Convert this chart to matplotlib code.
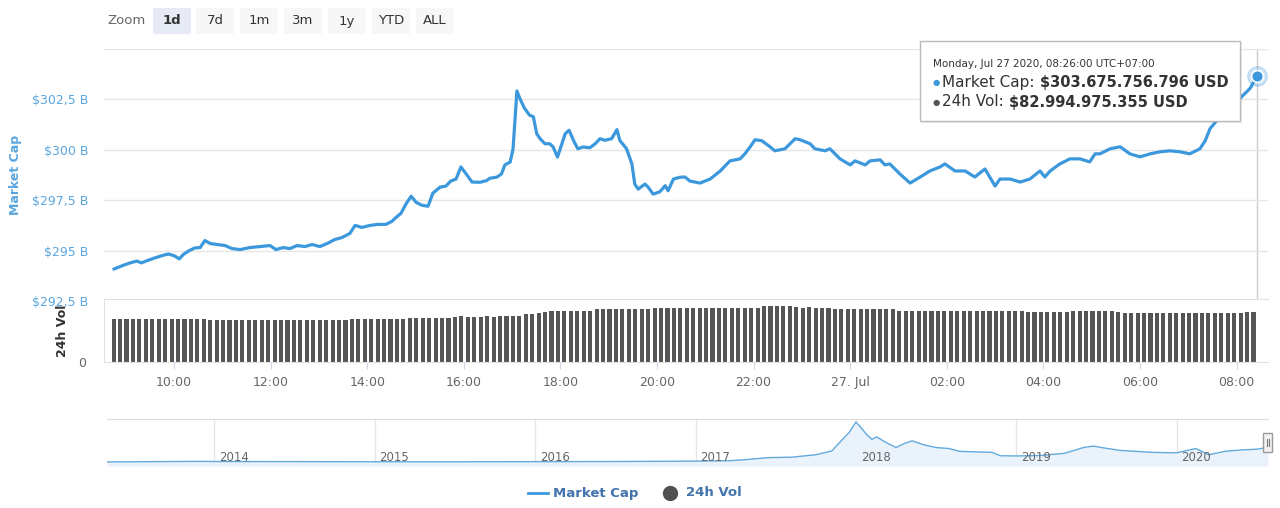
import numpy as np
import matplotlib.pyplot as plt
from matplotlib.patches import Rectangle
from matplotlib.lines import Line2D

# Market cap over the last day (hours counted from Jul 26 00:00), billions USD
mc_hours = [8.76, 8.95, 9.09, 9.23, 9.33, 9.44, 9.57, 9.75, 9.88, 10.00, 10.11, 10.19,
            10.30, 10.43, 10.54, 10.64, 10.75, 10.91, 11.06, 11.20, 11.37, 11.57, 11.78,
            11.99, 12.11, 12.26, 12.40, 12.55, 12.71, 12.86, 13.02, 13.17, 13.33, 13.48,
            13.64, 13.75, 13.89, 14.06, 14.22, 14.39, 14.51, 14.60, 14.70, 14.80, 14.91,
            15.01, 15.13, 15.26, 15.36, 15.51, 15.63, 15.73, 15.84, 15.94, 16.05, 16.17,
            16.34, 16.47, 16.54, 16.68, 16.78, 16.85, 16.96, 17.02, 17.10, 17.16, 17.25,
            17.36, 17.44, 17.51, 17.58, 17.68, 17.78, 17.85, 17.94, 18.03, 18.10, 18.18,
            18.27, 18.36, 18.47, 18.61, 18.72, 18.82, 18.92, 19.06, 19.17, 19.23, 19.37,
            19.48, 19.54, 19.61, 19.75, 19.82, 19.92, 20.06, 20.17, 20.23, 20.34, 20.48,
            20.58, 20.68, 20.89, 21.10, 21.31, 21.51, 21.72, 21.82, 21.93, 22.03, 22.17,
            22.34, 22.44, 22.65, 22.86, 22.96, 23.17, 23.27, 23.48, 23.58, 23.79, 24.00,
            24.10, 24.31, 24.41, 24.62, 24.72, 24.82, 25.03, 25.24, 25.45, 25.65, 25.86,
            25.96, 26.17, 26.38, 26.58, 26.79, 27.00, 27.10, 27.31, 27.52, 27.72, 27.93,
            28.03, 28.14, 28.34, 28.55, 28.76, 28.96, 29.07, 29.17, 29.38, 29.59, 29.79,
            30.00, 30.21, 30.41, 30.62, 30.83, 31.03, 31.24, 31.35, 31.45, 31.66, 31.86,
            32.07, 32.28, 32.43]
mc_values = [294.09, 294.27, 294.39, 294.48, 294.39, 294.50, 294.61, 294.75, 294.83, 294.75,
             294.59, 294.80, 294.98, 295.13, 295.15, 295.50, 295.35, 295.30, 295.25, 295.10,
             295.05, 295.15, 295.20, 295.25, 295.05, 295.15, 295.10, 295.25, 295.20, 295.30,
             295.20, 295.35, 295.55, 295.65, 295.85, 296.25, 296.15, 296.25, 296.30, 296.30,
             296.45, 296.65, 296.85, 297.30, 297.70, 297.40, 297.25, 297.20, 297.85, 298.15,
             298.20, 298.45, 298.55, 299.15, 298.80, 298.40, 298.39, 298.47, 298.59, 298.64,
             298.80, 299.25, 299.39, 300.05, 302.92, 302.55, 302.09, 301.72, 301.64, 300.80,
             300.55, 300.30, 300.30, 300.14, 299.64, 300.30, 300.80, 300.97, 300.47, 300.05,
             300.14, 300.10, 300.30, 300.55, 300.47, 300.55, 301.00, 300.47, 300.05, 299.30,
             298.30, 298.05, 298.30, 298.14, 297.80, 297.92, 298.22, 297.97, 298.55, 298.64,
             298.65, 298.45, 298.35, 298.55, 298.95, 299.45, 299.55, 299.80, 300.15, 300.50,
             300.45, 300.15, 299.95, 300.05, 300.55, 300.50, 300.30, 300.05, 299.95, 300.05,
             299.55, 299.25, 299.45, 299.25, 299.45, 299.50, 299.25, 299.30, 298.80, 298.35,
             298.65, 298.95, 299.15, 299.30, 298.95, 298.95, 298.65, 299.05, 298.20, 298.55,
             298.55, 298.40, 298.55, 298.95, 298.65, 298.95, 299.30, 299.55, 299.55, 299.40,
             299.80, 299.80, 300.05, 300.15, 299.80, 299.65, 299.80, 299.90, 299.95, 299.90,
             299.80, 300.05, 300.45, 301.05, 301.65, 302.05, 302.55, 303.05, 303.68]

# 24h volume, one bar every 8 minutes from 08:45, billions USD
vol_start = 8.75
vol_step = 8 / 60
vol_values = [71.2, 71.0, 71.1, 71.3, 71.2, 71.0, 71.1, 71.2, 71.3, 71.1, 71.0, 71.2, 71.1, 71.3, 71.0,
              69.3, 69.2, 69.1, 69.2, 69.0, 69.1, 69.2, 69.3, 69.1, 69.0, 69.1, 69.2, 69.1, 69.0,
              69.2, 69.3, 69.1, 69.2, 69.0, 69.1, 69.3, 69.2,
              71.0, 71.2, 71.1, 71.3, 71.0, 71.2, 71.1, 71.0, 71.2,
              72.6, 72.4, 72.5, 72.7, 72.5, 72.4, 72.6,
              75.0, 75.2, 74.9, 75.1, 75.0, 75.3, 75.1,
              76.5, 76.7, 76.4, 76.6,
              78.6, 79.1, 80.5, 81.8,
              84.0, 84.2, 83.9, 84.1, 84.0, 84.3, 84.1,
              87.0, 87.1, 86.9, 87.2, 87.0, 86.8, 87.1, 87.0, 86.9,
              88.5, 88.6, 88.4, 88.7, 88.5, 88.6, 88.4, 88.5, 88.7, 88.6, 88.5, 88.4, 88.6, 88.8,
              88.5, 88.6, 88.9,
              92.0, 92.2, 91.9, 92.1, 91.8, 91.5,
              89.6, 90.2, 89.4, 89.7, 89.5,
              87.5, 87.4, 87.6, 87.5, 87.3, 87.6, 87.4, 87.5, 87.2, 87.3,
              84.7, 84.8, 84.6, 84.7, 84.9, 84.6, 84.7, 84.8, 84.5, 84.7, 84.6, 84.8, 84.7, 84.6,
              84.9, 84.7, 84.5, 84.6, 84.8, 84.6,
              83.0, 82.9, 83.1, 83.0, 82.8, 83.0, 83.2, 83.5, 83.9, 83.4, 83.8, 84.1, 83.6, 83.9, 83.1,
              81.3, 81.2, 81.4, 81.3, 81.1, 81.3, 81.2, 81.4, 81.3, 81.2, 81.1, 81.3, 81.4, 81.2,
              81.3, 81.1, 81.2, 81.4, 81.3,
              82.6, 83.0]

# navigator: full market cap history, billions USD
hist_years = [2013.33, 2013.9, 2014.0, 2014.5, 2015.0, 2015.5, 2016.0, 2016.5, 2017.0, 2017.2,
              2017.3, 2017.45, 2017.6, 2017.75, 2017.85, 2017.92, 2017.96, 2018.0, 2018.03,
              2018.07, 2018.1, 2018.13, 2018.18, 2018.25, 2018.3, 2018.35, 2018.42, 2018.5,
              2018.58, 2018.65, 2018.75, 2018.85, 2018.9, 2019.0, 2019.15, 2019.3, 2019.42,
              2019.48, 2019.55, 2019.65, 2019.75, 2019.85, 2020.0, 2020.12, 2020.2, 2020.3,
              2020.4, 2020.5, 2020.57]
hist_caps = [1.5, 13, 10, 8, 5, 5, 7, 10, 18, 25, 45, 90, 100, 150, 230, 480, 620, 830, 720,
             560, 470, 520, 420, 300, 380, 440, 360, 300, 280, 220, 210, 200, 130, 125, 135,
             180, 300, 330, 290, 240, 220, 200, 190, 280, 150, 220, 250, 265, 303]

hour_ticks = [10, 12, 14, 16, 18, 20, 22, 24, 26, 28, 30, 32]
hour_labels = ['10:00', '12:00', '14:00', '16:00', '18:00', '20:00', '22:00', '27. Jul',
               '02:00', '04:00', '06:00', '08:00']
cap_ticks = [292.5, 295, 297.5, 300, 302.5, 305]
cap_labels = ['$292,5 B', '$295 B', '$297,5 B', '$300 B', '$302,5 B', '']
years = [2014, 2015, 2016, 2017, 2018, 2019, 2020]
buttons = ['1d', '7d', '1m', '3m', '1y', 'YTD', 'ALL']

plt.rcParams['font.family'] = ['DejaVu Sans']

W, H = 1280, 508
def fx(x):
    return x / W
def fy(y):
    return 1 - y / H

blue = '#3c98dc'
grid = '#e6e6e6'
xlim = (8.551, 32.65)

fig = plt.figure(figsize=(12.8, 5.08), dpi=100)

# main market cap panel
ax = fig.add_axes([fx(104), fy(301), fx(1268) - fx(104), (301 - 49) / H])
ax.plot(mc_hours, mc_values, color=blue, lw=2.3, solid_joinstyle='round', zorder=3)
ax.plot(mc_hours[-1], mc_values[-1], 'o', ms=14, color=blue, alpha=0.25, clip_on=False, zorder=4)
ax.plot(mc_hours[-1], mc_values[-1], 'o', ms=8.5, color=blue, mec='white', mew=1.2,
        clip_on=False, zorder=5)
ax.axvline(mc_hours[-1], color='#cccccc', lw=1, zorder=1)
ax.set_xlim(*xlim)
ax.set_ylim(292.5, 305)
ax.set_yticks(cap_ticks)
ax.set_yticklabels(cap_labels, color='#5aa6de', fontsize=9)
ax.tick_params(axis='y', length=0, pad=11)
ax.set_xticks([])
ax.grid(axis='y', color=grid, lw=1)
for s in ax.spines.values():
    s.set_visible(False)

# volume panel
axv = fig.add_axes([fx(104), fy(362), fx(1268) - fx(104), (362 - 299) / H])
bar_times = vol_start + np.arange(len(vol_values)) * vol_step
axv.bar(bar_times, vol_values, width=0.085, color='#555555', lw=0)
axv.set_xlim(*xlim)
axv.set_ylim(0, 104)
axv.set_yticks([0])
axv.set_yticklabels(['0'], color='#666666', fontsize=9)
axv.tick_params(axis='y', length=0, pad=13)
axv.set_xticks(hour_ticks)
axv.set_xticklabels(hour_labels, color='#666666', fontsize=9)
axv.tick_params(axis='x', length=5, color='#ccd6eb', pad=5)
axv.spines['right'].set_visible(False)
for k in ['top', 'left', 'bottom']:
    axv.spines[k].set_color('#e0e0e0')

# navigator
axn = fig.add_axes([fx(107), fy(466), fx(1268) - fx(107), 47 / H])
axn.fill_between(hist_years, hist_caps, -83, color='#eaf3fb', lw=0)
axn.plot(hist_years, hist_caps, color='#62aadd', lw=1)
axn.set_xlim(2013.33, 2020.57)
axn.set_ylim(-83, 892)
for yr in years:
    axn.axvline(yr, color=grid, lw=1, zorder=0)
    axn.text(yr + 0.03, 0.19, str(yr), transform=axn.get_xaxis_transform(),
             color='#666666', fontsize=8.5, va='center', ha='left')
axn.set_xticks([])
axn.set_yticks([])
for k in ['left', 'right', 'bottom']:
    axn.spines[k].set_visible(False)
axn.spines['top'].set_color('#dddddd')
fig.patches.append(Rectangle((fx(1263), fy(452)), fx(9), 19 / H, transform=fig.transFigure,
                             facecolor='#f2f2f2', edgecolor='#999999', lw=1))
for xx in [1266.5, 1268.5]:
    fig.lines.append(Line2D([fx(xx), fx(xx)], [fy(446), fy(439)], transform=fig.transFigure,
                            color='#777777', lw=0.8))

# axis titles
fig.text(fx(16), fy(175), 'Market Cap', rotation=90, ha='center', va='center',
         color='#5aa6de', fontsize=9, fontweight='bold')
fig.text(fx(62), fy(331), '24h Vol', rotation=90, ha='center', va='center',
         color='#333333', fontsize=9, fontweight='bold')

# zoom buttons
fig.text(fx(107), fy(21), 'Zoom', ha='left', va='center', color='#666666', fontsize=9.5)
bx = [153, 196, 240, 284, 328, 372, 416]
for i, (b, x0) in enumerate(zip(buttons, bx)):
    fig.patches.append(Rectangle((fx(x0), fy(34)), fx(38), 26 / H, transform=fig.transFigure,
                                 facecolor='#e6ebf5' if i == 0 else '#f7f7f7', lw=0))
    fig.text(fx(x0 + 19), fy(21), b, ha='center', va='center', color='#333333', fontsize=9.5,
             fontweight='bold' if i == 0 else 'normal')

# tooltip
fig.patches.append(Rectangle((fx(922), fy(123)), fx(320), 80 / H, transform=fig.transFigure,
                             facecolor='#000000', alpha=0.08, lw=0))
fig.patches.append(Rectangle((fx(920), fy(121)), fx(320), 80 / H, transform=fig.transFigure,
                             facecolor='white', edgecolor='#bbbbbb', lw=1))
fig.text(fx(933), fy(64), 'Monday, Jul 27 2020, 08:26:00 UTC+07:00', ha='left', va='center',
         color='#333333', fontsize=7.5)
renderer = fig.canvas.get_renderer()
rows = [(83, blue, 'Market Cap:', '$303.675.756.796 USD'),
        (102, '#555555', '24h Vol:', '$82.994.975.355 USD')]
for yy, c, lab, val in rows:
    fig.text(fx(933), fy(yy), '\u25cf', ha='left', va='center', color=c, fontsize=6)
    t = fig.text(fx(942), fy(yy), lab, ha='left', va='center', color='#333333', fontsize=11)
    x_end = t.get_window_extent(renderer).x1
    fig.text(fx(x_end + 5), fy(yy), val, ha='left', va='center', color='#333333',
             fontsize=10.5, fontweight='bold')

# legend
fig.lines.append(Line2D([fx(528), fx(548)], [fy(493), fy(493)], transform=fig.transFigure,
                        color=blue, lw=2))
fig.text(fx(553), fy(493), 'Market Cap', ha='left', va='center', color='#4273ad',
         fontsize=9.5, fontweight='bold')
fig.lines.append(Line2D([fx(670)], [fy(493)], transform=fig.transFigure, marker='o',
                        ms=10, color='#505050', lw=0))
fig.text(fx(686), fy(493), '24h Vol', ha='left', va='center', color='#4273ad',
         fontsize=9.5, fontweight='bold')

fig.savefig('out.png', dpi=100)
